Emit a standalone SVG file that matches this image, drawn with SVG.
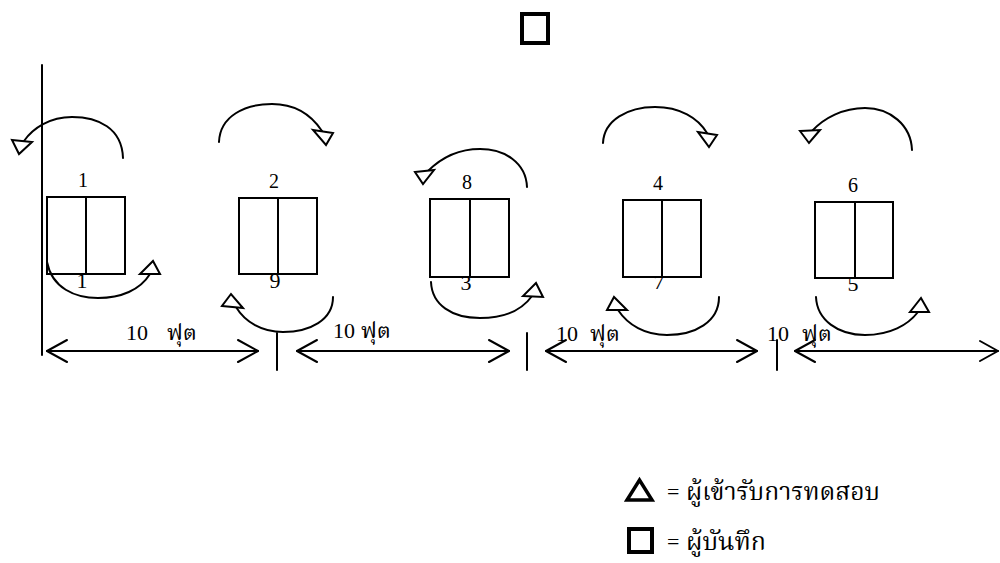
<svg xmlns="http://www.w3.org/2000/svg" width="1000" height="563" viewBox="0 0 1000 563">
<style>
.ln{fill:none;stroke:#000;stroke-width:2;stroke-linecap:round;stroke-linejoin:round}
.box{fill:#fff;stroke:#000;stroke-width:2}
.tri{fill:#fff;stroke:#000;stroke-width:2;stroke-linejoin:miter}
.num{font-family:"Liberation Serif","Times New Roman",serif;font-size:20px;fill:#000;text-anchor:middle}
.num2{font-family:"Liberation Serif","Times New Roman",serif;font-size:22px;fill:#000;text-anchor:middle}
.dim{font-family:"Liberation Serif","Noto Serif Thai","Noto Sans Thai","Norasi","Garuda",serif;font-size:22px;fill:#000}
.th{font-family:"Noto Serif Thai","Noto Sans Thai","Norasi","Garuda","Loma","DejaVu Sans",sans-serif;font-size:24px;fill:#000}
</style>
<rect width="1000" height="563" fill="#fff"/>
<g id="recorder-top"><rect x="522" y="14" width="26" height="29" fill="none" stroke="#000" stroke-width="4"/></g>
<g id="boundary"><line class="ln" x1="42" y1="65" x2="42" y2="355"/></g>
<g id="labels-below">
<text class="num2" x="82" y="288">1</text>
<text class="num2" x="275" y="288">9</text>
<text class="num2" x="466" y="290">3</text>
<text class="num2" x="659" y="289">7</text>
<text class="num2" x="853" y="291">5</text>
</g>
<g id="station-1"><rect class="box" x="47" y="197" width="78" height="77"/><line class="ln" x1="86" y1="197" x2="86" y2="274"/><text class="num" x="83" y="187">1</text></g>
<g id="station-2"><rect class="box" x="239" y="198" width="78" height="76"/><line class="ln" x1="278" y1="198" x2="278" y2="274"/><text class="num" x="274" y="188">2</text></g>
<g id="station-8"><rect class="box" x="430" y="199" width="79" height="78"/><line class="ln" x1="470" y1="199" x2="470" y2="277"/><text class="num" x="467" y="189">8</text></g>
<g id="station-4"><rect class="box" x="623" y="200" width="78" height="77"/><line class="ln" x1="662" y1="200" x2="662" y2="277"/><text class="num" x="658" y="190">4</text></g>
<g id="station-6"><rect class="box" x="815" y="202" width="78" height="76"/><line class="ln" x1="855" y1="202" x2="855" y2="278"/><text class="num" x="853" y="192">6</text></g>
<g id="connectors">
<path class="ln" d="M123,158 C122,128 98,117 72,117 C50,117 33,128 24,141"/>
<polygon class="tri" points="12,140 32,142 19,154"/>
<path class="ln" d="M219,142 C220,116 245,104 272,104 C296,104 312,116 322,131"/>
<polygon class="tri" points="313,130 333,133 326,145"/>
<path class="ln" d="M527,187 C526,163 505,149 480,149 C458,149 441,158 428,171"/>
<polygon class="tri" points="415,172 434,170 423,184"/>
<path class="ln" d="M603,143 C604,120 628,107 655,107 C680,107 698,118 707,133"/>
<polygon class="tri" points="698,132 717,135 709,147"/>
<path class="ln" d="M912,150 C911,125 890,108 865,108 C843,108 824,118 812,131"/>
<polygon class="tri" points="800,131 820,130 809,143"/>
<path class="ln" d="M47,262 C52,288 75,298 98,298 C121,298 140,290 150,274"/>
<polygon class="tri" points="140,274 160,274 153,261"/>
<path class="ln" d="M333,297 C333,320 310,332 283,332 C262,332 245,322 236,307"/>
<polygon class="tri" points="222,306 243,308 231,294"/>
<path class="ln" d="M431,282 C432,305 452,318 480,318 C505,318 522,310 532,296"/>
<polygon class="tri" points="523,296 543,297 536,283"/>
<path class="ln" d="M719,297 C719,322 695,335 667,335 C645,335 628,325 618,310"/>
<polygon class="tri" points="607,310 627,310 614,297"/>
<path class="ln" d="M816,297 C817,320 838,335 865,335 C890,335 908,325 918,312"/>
<polygon class="tri" points="910,312 929,312 921,298"/>
</g>
<g id="dimensions">
<line class="ln" x1="47" y1="351" x2="258" y2="351"/><polyline class="ln" points="67,340 47,351 67,362"/><polyline class="ln" points="238,340 258,351 238,362"/>
<line class="ln" x1="277" y1="333" x2="277" y2="370"/>
<line class="ln" x1="297" y1="351" x2="509" y2="351"/><polyline class="ln" points="317,340 297,351 317,362"/><polyline class="ln" points="489,340 509,351 489,362"/>
<line class="ln" x1="527" y1="333" x2="527" y2="370"/>
<line class="ln" x1="546" y1="351" x2="757" y2="351"/><polyline class="ln" points="566,340 546,351 566,362"/><polyline class="ln" points="737,340 757,351 737,362"/>
<line class="ln" x1="777" y1="340" x2="777" y2="370"/>
<line class="ln" x1="795" y1="351" x2="998" y2="351"/><polyline class="ln" points="815,340 795,351 815,362"/><polyline class="ln" points="980,341 998,351 980,361"/>
<text class="dim" x="126" y="340">10</text><text class="dim" x="167" y="340">ฟุต</text>
<text class="dim" x="333" y="338">10</text><text class="dim" x="361" y="338">ฟุต</text>
<text class="dim" x="556" y="341">10</text><text class="dim" x="590" y="341">ฟุต</text>
<text class="dim" x="767" y="341">10</text><text class="dim" x="802" y="341">ฟุต</text>
</g>
<g id="legend">
<polygon points="627,500 652,500 639.5,480" fill="none" stroke="#000" stroke-width="3.5" stroke-linejoin="miter"/>
<text class="dim" x="667" y="499">=</text>
<text class="th" x="686" y="500" textLength="194" lengthAdjust="spacingAndGlyphs">ผู้เข้ารับการทดสอบ</text>
<rect x="629" y="529" width="23" height="23" fill="none" stroke="#000" stroke-width="4"/>
<text class="dim" x="667" y="549">=</text>
<text class="th" x="686" y="550" textLength="80" lengthAdjust="spacingAndGlyphs">ผู้บันทึก</text>
</g>
</svg>
